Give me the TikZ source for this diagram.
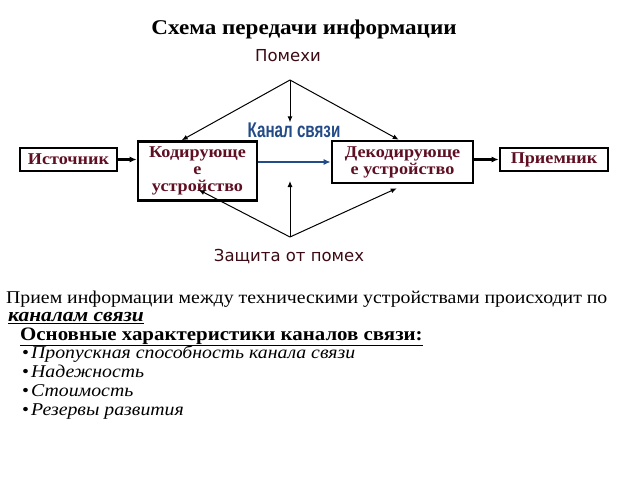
\documentclass[tikz,border=0pt]{standalone}
\usepackage{fontspec}
\setmainfont[FakeStretch=1.1]{Liberation Serif}
\newfontfamily\labelfont{DejaVu Sans}
\newfontfamily\chanfont{Liberation Sans}
\usetikzlibrary{arrows.meta}
\definecolor{boxtext}{RGB}{95,15,35}
\definecolor{noisetext}{RGB}{60,10,20}
\definecolor{chanblue}{RGB}{35,75,135}
\tikzset{
  unit/.style={draw, line width=2.6pt, font=\bfseries\fontsize{16.5}{17}\selectfont, text=boxtext, inner sep=0pt, align=center},
  link/.style={-{Latex[length=6pt,width=5pt]}, line width=1pt},
  thick link/.style={-{Latex[length=7pt,width=6pt]}, line width=2.4pt},
  chan link/.style={-{Latex[length=7pt,width=6pt]}, line width=1.6pt, draw=chanblue},
  side label/.style={font=\labelfont\fontsize{16.5}{18}\selectfont, text=noisetext},
  body/.style={anchor=base west, font=\fontsize{18}{20}\selectfont, inner sep=0pt}
}
\begin{document}
\begin{tikzpicture}[x=1pt,y=1pt]
\useasboundingbox (0,0) rectangle (640,-480);
\node[font=\bfseries\fontsize{21}{22}\selectfont] (title) at (304,-29) {Схема передачи информации};
\node[side label] (noise) at (288,-56) {Помехи};
\node[side label] (prot) at (289,-257) {Защита от помех};
\node[font=\chanfont\bfseries\fontsize{19}{20}\selectfont, text=chanblue, inner sep=0pt] (chan) at (294,-130) {\scalebox{0.8}[1.12]{Канал связи}};
\node[unit, minimum width=97pt, minimum height=23pt] (src) at (68.5,-159.5) {Источник};
\node[unit, minimum width=119pt, minimum height=59pt] (enc) at (197.5,-171) {Кодирующе\\е\\устройство};
\node[unit, minimum width=141pt, minimum height=42pt] (dec) at (402.5,-162) {Декодирующе\\е устройство};
\node[unit, minimum width=108pt, minimum height=23pt] (dst) at (554,-159.5) {Приемник};
\coordinate (top) at (290,-80);
\coordinate (bot) at (290,-237);
\coordinate (up) at (290,-181);
\draw[link] (top) -- (top |- chan.north);
\draw[link] (top) -- ([xshift=45pt]enc.north west);
\draw[link] (top) -- ([xshift=68pt]dec.north west);
\draw[link] (bot) -- (up);
\draw[link] (bot) -- ([xshift=62pt,yshift=12pt]enc.south west);
\draw[link] (bot) -- ([xshift=66pt,yshift=-4pt]dec.south west);
\draw[thick link] (src.east) -- (enc.west |- src.east);
\draw[thick link] (dec.east |- dst.west) -- (dst.west);
\draw[chan link] (enc.east |- dec.west) -- (dec.west);
\node[body] (recv) at (6,-303) {Прием информации между техническими устройствами происходит по};
\node[body, font=\fontsize{19.5}{20}\selectfont] (ways) at (8,-321.5) {\textbf{\textit{\underline{каналам связи}}}};
\node[body, font=\fontsize{19}{20}\selectfont] (head) at (20,-340) {\textbf{\underline{Основные характеристики каналов связи:}}};
\node[body] (b1) at (22,-358) {•\hspace{2pt}\textit{Пропускная способность канала связи}};
\node[body] (b2) at (22,-377) {•\hspace{2pt}\textit{Надежность}};
\node[body] (b3) at (22,-396) {•\hspace{2pt}\textit{Стоимость}};
\node[body] (b4) at (22,-415) {•\hspace{2pt}\textit{Резервы развития}};
\end{tikzpicture}
\end{document}
